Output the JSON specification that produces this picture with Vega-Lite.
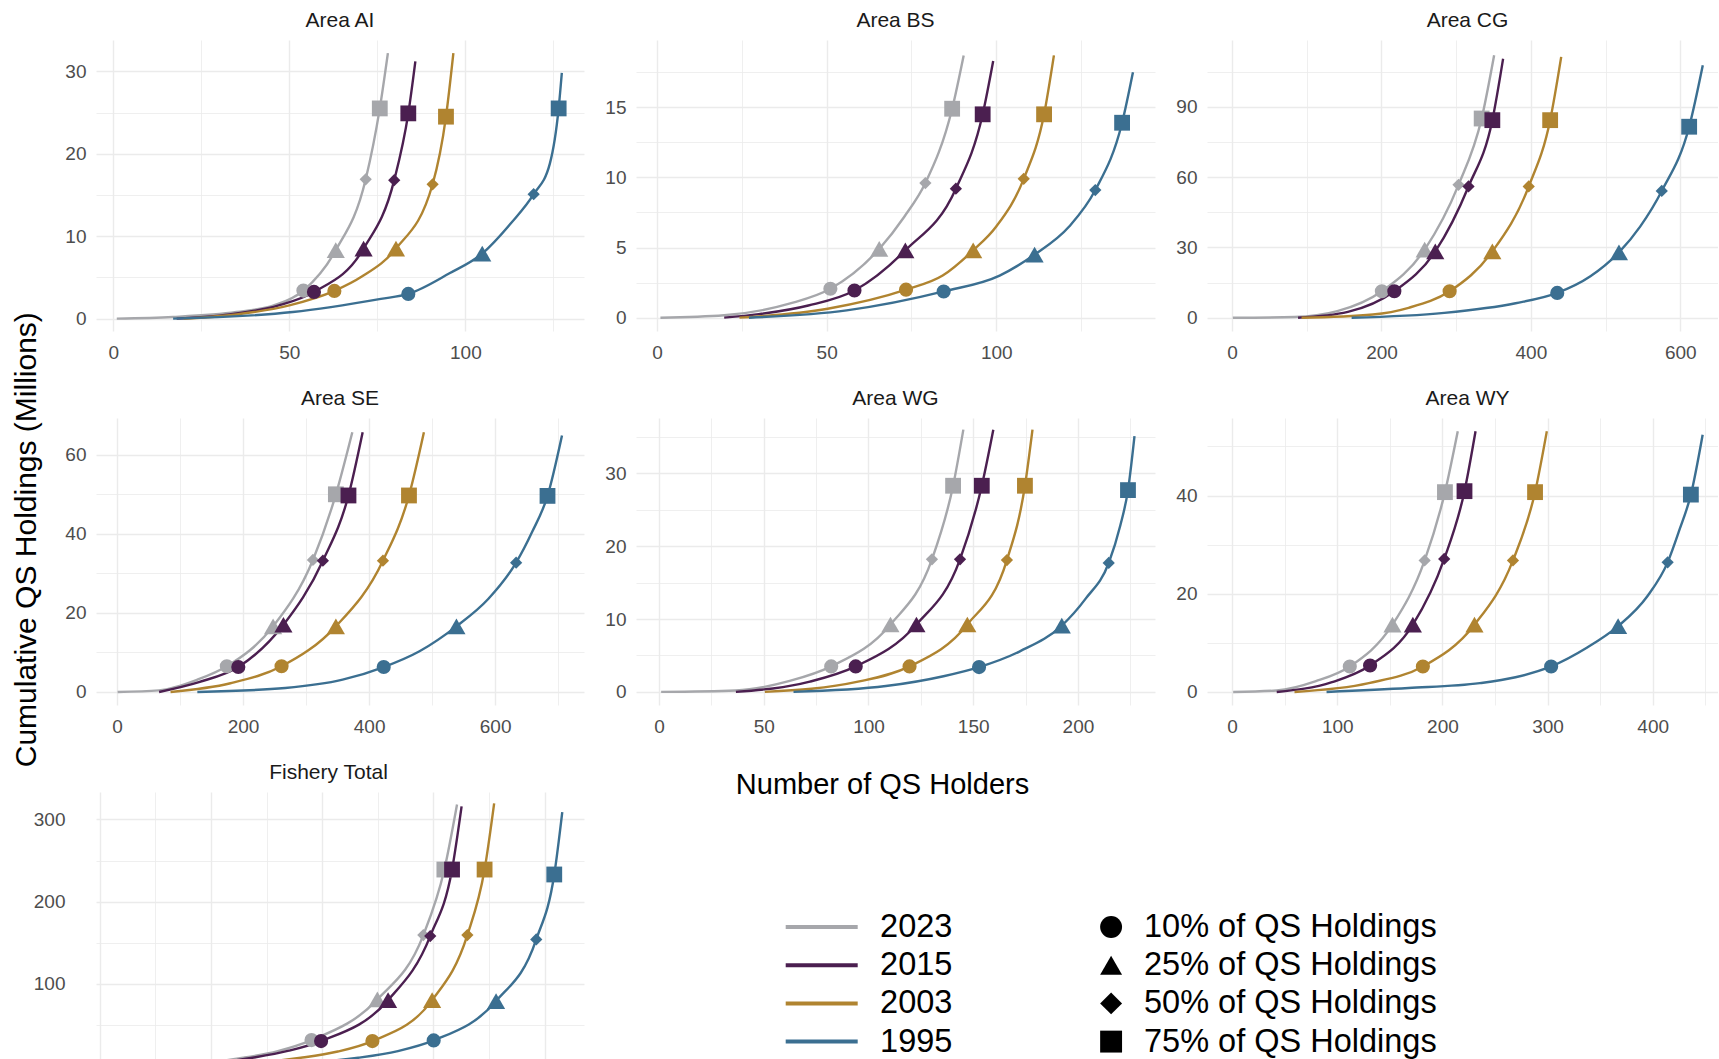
{
"$schema": "https://vega.github.io/schema/vega-lite/v6.json",
"background": "white",
"autosize": {"type": "pad"},
"padding": {"left": 11, "top": 10, "right": 0, "bottom": 0},
"columns": 3,
"bounds": "flush",
"align": "each",
"spacing": {"row": 87, "column": 52},
"datasets": {
"lines": [
{"p":"AI","yr":"2023","x":1,"y":0},{"p":"AI","yr":"2023","x":17,"y":0.2},{"p":"AI","yr":"2023","x":35,"y":0.8},{"p":"AI","yr":"2023","x":45.6,"y":1.6},{"p":"AI","yr":"2023","x":54,"y":3.4},{"p":"AI","yr":"2023","x":63.2,"y":8.3},{"p":"AI","yr":"2023","x":71.7,"y":16.9},{"p":"AI","yr":"2023","x":75.7,"y":25.5},{"p":"AI","yr":"2023","x":78,"y":32.2},
{"p":"AI","yr":"2015","x":18,"y":0},{"p":"AI","yr":"2015","x":33,"y":0.5},{"p":"AI","yr":"2015","x":47,"y":1.6},{"p":"AI","yr":"2015","x":57,"y":3.24},{"p":"AI","yr":"2015","x":71.1,"y":8.5},{"p":"AI","yr":"2015","x":79.8,"y":16.8},{"p":"AI","yr":"2015","x":83.8,"y":24.9},{"p":"AI","yr":"2015","x":85.8,"y":31.2},
{"p":"AI","yr":"2003","x":20,"y":0},{"p":"AI","yr":"2003","x":35,"y":0.5},{"p":"AI","yr":"2003","x":50,"y":1.6},{"p":"AI","yr":"2003","x":62.8,"y":3.36},{"p":"AI","yr":"2003","x":70.6,"y":5.1},{"p":"AI","yr":"2003","x":80.3,"y":8.5},{"p":"AI","yr":"2003","x":90.7,"y":16.3},{"p":"AI","yr":"2003","x":94.5,"y":24.5},{"p":"AI","yr":"2003","x":96.6,"y":32.2},
{"p":"AI","yr":"1995","x":17,"y":0},{"p":"AI","yr":"1995","x":51,"y":0.8},{"p":"AI","yr":"1995","x":76,"y":2.4},{"p":"AI","yr":"1995","x":83.8,"y":3.0},{"p":"AI","yr":"1995","x":95.5,"y":5.5},{"p":"AI","yr":"1995","x":104.8,"y":7.9},{"p":"AI","yr":"1995","x":113,"y":11.6},{"p":"AI","yr":"1995","x":119.4,"y":15.1},{"p":"AI","yr":"1995","x":124,"y":18.8},{"p":"AI","yr":"1995","x":126.5,"y":25.5},{"p":"AI","yr":"1995","x":127.4,"y":29.8},
{"p":"BS","yr":"2023","x":1,"y":0},{"p":"BS","yr":"2023","x":19.8,"y":0.17},{"p":"BS","yr":"2023","x":39,"y":1.0},{"p":"BS","yr":"2023","x":51.1,"y":2.06},{"p":"BS","yr":"2023","x":65.5,"y":4.9},{"p":"BS","yr":"2023","x":72.9,"y":7.2},{"p":"BS","yr":"2023","x":79.1,"y":9.6},{"p":"BS","yr":"2023","x":87,"y":14.9},{"p":"BS","yr":"2023","x":90.4,"y":18.7},
{"p":"BS","yr":"2015","x":19.8,"y":0},{"p":"BS","yr":"2015","x":30,"y":0.25},{"p":"BS","yr":"2015","x":44.6,"y":0.87},{"p":"BS","yr":"2015","x":58.2,"y":1.94},{"p":"BS","yr":"2015","x":73.2,"y":4.8},{"p":"BS","yr":"2015","x":88.1,"y":9.2},{"p":"BS","yr":"2015","x":96,"y":14.5},{"p":"BS","yr":"2015","x":99.1,"y":18.3},
{"p":"BS","yr":"2003","x":24.3,"y":0},{"p":"BS","yr":"2003","x":50.3,"y":0.64},{"p":"BS","yr":"2003","x":73.4,"y":2.0},{"p":"BS","yr":"2003","x":84.2,"y":3.0},{"p":"BS","yr":"2003","x":93.2,"y":4.8},{"p":"BS","yr":"2003","x":100,"y":6.5},{"p":"BS","yr":"2003","x":108.1,"y":9.9},{"p":"BS","yr":"2003","x":114.1,"y":14.5},{"p":"BS","yr":"2003","x":117,"y":18.7},
{"p":"BS","yr":"1995","x":27.1,"y":0},{"p":"BS","yr":"1995","x":55.9,"y":0.52},{"p":"BS","yr":"1995","x":84.5,"y":1.87},{"p":"BS","yr":"1995","x":101,"y":3.0},{"p":"BS","yr":"1995","x":111.3,"y":4.5},{"p":"BS","yr":"1995","x":121.5,"y":6.5},{"p":"BS","yr":"1995","x":129.2,"y":9.1},{"p":"BS","yr":"1995","x":137.1,"y":13.9},{"p":"BS","yr":"1995","x":140.3,"y":17.5},
{"p":"CG","yr":"2023","x":1,"y":0},{"p":"CG","yr":"2023","x":83.5,"y":0.3},{"p":"CG","yr":"2023","x":140.8,"y":2.8},{"p":"CG","yr":"2023","x":200.5,"y":11.3},{"p":"CG","yr":"2023","x":257.8,"y":29.1},{"p":"CG","yr":"2023","x":303.1,"y":56.7},{"p":"CG","yr":"2023","x":334.1,"y":85},{"p":"CG","yr":"2023","x":350.8,"y":112},
{"p":"CG","yr":"2015","x":88.3,"y":0},{"p":"CG","yr":"2015","x":155,"y":2.5},{"p":"CG","yr":"2015","x":217.2,"y":11.3},{"p":"CG","yr":"2015","x":272,"y":28.3},{"p":"CG","yr":"2015","x":316.5,"y":56},{"p":"CG","yr":"2015","x":348.4,"y":84.3},{"p":"CG","yr":"2015","x":362.8,"y":110.5},
{"p":"CG","yr":"2003","x":93,"y":0},{"p":"CG","yr":"2003","x":188.5,"y":1.4},{"p":"CG","yr":"2003","x":236.3,"y":4.25},{"p":"CG","yr":"2003","x":291.2,"y":11.3},{"p":"CG","yr":"2003","x":348.4,"y":28.3},{"p":"CG","yr":"2003","x":397.1,"y":56},{"p":"CG","yr":"2003","x":425.8,"y":84.3},{"p":"CG","yr":"2003","x":440.6,"y":111.3},
{"p":"CG","yr":"1995","x":160,"y":0},{"p":"CG","yr":"1995","x":284,"y":2.1},{"p":"CG","yr":"1995","x":379.5,"y":6.2},{"p":"CG","yr":"1995","x":435.3,"y":10.6},{"p":"CG","yr":"1995","x":479.7,"y":17.7},{"p":"CG","yr":"1995","x":517.9,"y":27.9},{"p":"CG","yr":"1995","x":546.5,"y":39},{"p":"CG","yr":"1995","x":575.2,"y":54.1},{"p":"CG","yr":"1995","x":611.9,"y":81.5},{"p":"CG","yr":"1995","x":630.1,"y":107.7},
{"p":"SE","yr":"2023","x":1,"y":0},{"p":"SE","yr":"2023","x":66.8,"y":0.4},{"p":"SE","yr":"2023","x":127.5,"y":3.1},{"p":"SE","yr":"2023","x":174.3,"y":6.5},{"p":"SE","yr":"2023","x":247.7,"y":16.6},{"p":"SE","yr":"2023","x":310.9,"y":33.4},{"p":"SE","yr":"2023","x":347.3,"y":50},{"p":"SE","yr":"2023","x":373.4,"y":65.7},
{"p":"SE","yr":"2015","x":66.8,"y":0},{"p":"SE","yr":"2015","x":130,"y":2.5},{"p":"SE","yr":"2015","x":192.5,"y":6.3},{"p":"SE","yr":"2015","x":264.1,"y":17},{"p":"SE","yr":"2015","x":326.7,"y":33.2},{"p":"SE","yr":"2015","x":367.3,"y":49.7},{"p":"SE","yr":"2015","x":389.8,"y":65.7},
{"p":"SE","yr":"2003","x":85,"y":0},{"p":"SE","yr":"2003","x":180,"y":2.2},{"p":"SE","yr":"2003","x":261.1,"y":6.5},{"p":"SE","yr":"2003","x":347.3,"y":16.6},{"p":"SE","yr":"2003","x":422,"y":33.2},{"p":"SE","yr":"2003","x":463.3,"y":49.7},{"p":"SE","yr":"2003","x":487,"y":65.7},
{"p":"SE","yr":"1995","x":127.5,"y":0},{"p":"SE","yr":"1995","x":267,"y":1.0},{"p":"SE","yr":"1995","x":358,"y":3.1},{"p":"SE","yr":"1995","x":423.2,"y":6.3},{"p":"SE","yr":"1995","x":480,"y":10.3},{"p":"SE","yr":"1995","x":538.6,"y":16.6},{"p":"SE","yr":"1995","x":589,"y":23.5},{"p":"SE","yr":"1995","x":633.3,"y":32.7},{"p":"SE","yr":"1995","x":658.8,"y":40.5},{"p":"SE","yr":"1995","x":683.1,"y":49.6},{"p":"SE","yr":"1995","x":706.1,"y":64.9},
{"p":"WG","yr":"2023","x":1,"y":0},{"p":"WG","yr":"2023","x":36.7,"y":0.2},{"p":"WG","yr":"2023","x":62.4,"y":1.5},{"p":"WG","yr":"2023","x":82.2,"y":3.5},{"p":"WG","yr":"2023","x":110.5,"y":9.25},{"p":"WG","yr":"2023","x":130.3,"y":18.2},{"p":"WG","yr":"2023","x":140.4,"y":28.3},{"p":"WG","yr":"2023","x":145.3,"y":36},
{"p":"WG","yr":"2015","x":36.7,"y":0},{"p":"WG","yr":"2015","x":72,"y":1.4},{"p":"WG","yr":"2015","x":93.9,"y":3.5},{"p":"WG","yr":"2015","x":122.9,"y":9.25},{"p":"WG","yr":"2015","x":143.7,"y":18.2},{"p":"WG","yr":"2015","x":154.1,"y":28.3},{"p":"WG","yr":"2015","x":159.6,"y":36},
{"p":"WG","yr":"2003","x":50.5,"y":0},{"p":"WG","yr":"2003","x":95,"y":1.4},{"p":"WG","yr":"2003","x":119.6,"y":3.5},{"p":"WG","yr":"2003","x":147.2,"y":9.25},{"p":"WG","yr":"2003","x":166.1,"y":18.1},{"p":"WG","yr":"2003","x":174.7,"y":28.3},{"p":"WG","yr":"2003","x":178.3,"y":36},
{"p":"WG","yr":"1995","x":64.2,"y":0},{"p":"WG","yr":"1995","x":108.3,"y":0.8},{"p":"WG","yr":"1995","x":135.8,"y":2.15},{"p":"WG","yr":"1995","x":152.8,"y":3.4},{"p":"WG","yr":"1995","x":172.5,"y":5.6},{"p":"WG","yr":"1995","x":192.3,"y":9.1},{"p":"WG","yr":"1995","x":203.7,"y":12.8},{"p":"WG","yr":"1995","x":214.7,"y":17.7},{"p":"WG","yr":"1995","x":220.2,"y":22.8},{"p":"WG","yr":"1995","x":223.9,"y":27.7},{"p":"WG","yr":"1995","x":227,"y":35.1},
{"p":"WY","yr":"2023","x":1,"y":0},{"p":"WY","yr":"2023","x":42.4,"y":0.3},{"p":"WY","yr":"2023","x":79.7,"y":2.2},{"p":"WY","yr":"2023","x":111.9,"y":5.2},{"p":"WY","yr":"2023","x":152.5,"y":13.7},{"p":"WY","yr":"2023","x":183.1,"y":26.8},{"p":"WY","yr":"2023","x":202.4,"y":40.7},{"p":"WY","yr":"2023","x":214.6,"y":53.1},
{"p":"WY","yr":"2015","x":42.4,"y":0},{"p":"WY","yr":"2015","x":95,"y":2.0},{"p":"WY","yr":"2015","x":131.2,"y":5.4},{"p":"WY","yr":"2015","x":171.9,"y":13.7},{"p":"WY","yr":"2015","x":201.7,"y":27.1},{"p":"WY","yr":"2015","x":221,"y":40.9},{"p":"WY","yr":"2015","x":231.5,"y":53.1},
{"p":"WY","yr":"2003","x":59.3,"y":0},{"p":"WY","yr":"2003","x":130,"y":1.8},{"p":"WY","yr":"2003","x":181.4,"y":5.2},{"p":"WY","yr":"2003","x":230.5,"y":13.7},{"p":"WY","yr":"2003","x":267.1,"y":26.8},{"p":"WY","yr":"2003","x":288.1,"y":40.7},{"p":"WY","yr":"2003","x":299.3,"y":53.1},
{"p":"WY","yr":"1995","x":89.8,"y":0},{"p":"WY","yr":"1995","x":167.8,"y":0.8},{"p":"WY","yr":"1995","x":235.6,"y":1.8},{"p":"WY","yr":"1995","x":269.5,"y":3.0},{"p":"WY","yr":"1995","x":303.4,"y":5.2},{"p":"WY","yr":"1995","x":337.3,"y":9},{"p":"WY","yr":"1995","x":367.1,"y":13.4},{"p":"WY","yr":"1995","x":394.9,"y":19.5},{"p":"WY","yr":"1995","x":414.2,"y":26.4},{"p":"WY","yr":"1995","x":425.4,"y":33},{"p":"WY","yr":"1995","x":436.3,"y":40.2},{"p":"WY","yr":"1995","x":447.5,"y":52.4},
{"p":"FT","yr":"2023","x":1,"y":0},{"p":"FT","yr":"2023","x":400,"y":2.5},{"p":"FT","yr":"2023","x":645,"y":9.9},{"p":"FT","yr":"2023","x":800,"y":18},{"p":"FT","yr":"2023","x":951.8,"y":31.4},{"p":"FT","yr":"2023","x":1247.8,"y":80.9},{"p":"FT","yr":"2023","x":1454.4,"y":159.2},{"p":"FT","yr":"2023","x":1549,"y":239},{"p":"FT","yr":"2023","x":1605.9,"y":318.1},
{"p":"FT","yr":"2015","x":60,"y":0},{"p":"FT","yr":"2015","x":450,"y":2.5},{"p":"FT","yr":"2015","x":700,"y":10.5},{"p":"FT","yr":"2015","x":850,"y":18.5},{"p":"FT","yr":"2015","x":994.8,"y":30.2},{"p":"FT","yr":"2015","x":1296,"y":80.1},{"p":"FT","yr":"2015","x":1485.4,"y":158},{"p":"FT","yr":"2015","x":1583.5,"y":239},{"p":"FT","yr":"2015","x":1626.5,"y":316},
{"p":"FT","yr":"2003","x":150,"y":0},{"p":"FT","yr":"2003","x":600,"y":2.5},{"p":"FT","yr":"2003","x":903.6,"y":9.9},{"p":"FT","yr":"2003","x":1070,"y":17.5},{"p":"FT","yr":"2003","x":1225.5,"y":30.2},{"p":"FT","yr":"2003","x":1494,"y":80.1},{"p":"FT","yr":"2003","x":1652.3,"y":159.2},{"p":"FT","yr":"2003","x":1729.8,"y":239},{"p":"FT","yr":"2003","x":1772.8,"y":319.5},
{"p":"FT","yr":"1995","x":300,"y":0},{"p":"FT","yr":"1995","x":800,"y":2.5},{"p":"FT","yr":"1995","x":1161.8,"y":9.9},{"p":"FT","yr":"1995","x":1340,"y":18},{"p":"FT","yr":"1995","x":1500.9,"y":31},{"p":"FT","yr":"1995","x":1781.4,"y":78.9},{"p":"FT","yr":"1995","x":1962.1,"y":154},{"p":"FT","yr":"1995","x":2043,"y":233},{"p":"FT","yr":"1995","x":2079,"y":309}
],
"pts": [
{"p":"AI","yr":"2023","q":"10% of QS Holdings","x":54,"y":3.4},{"p":"AI","yr":"2023","q":"25% of QS Holdings","x":63.2,"y":8.3},{"p":"AI","yr":"2023","q":"50% of QS Holdings","x":71.7,"y":16.9},{"p":"AI","yr":"2023","q":"75% of QS Holdings","x":75.7,"y":25.5},
{"p":"AI","yr":"2015","q":"10% of QS Holdings","x":57,"y":3.24},{"p":"AI","yr":"2015","q":"25% of QS Holdings","x":71.1,"y":8.5},{"p":"AI","yr":"2015","q":"50% of QS Holdings","x":79.8,"y":16.8},{"p":"AI","yr":"2015","q":"75% of QS Holdings","x":83.8,"y":24.9},
{"p":"AI","yr":"2003","q":"10% of QS Holdings","x":62.8,"y":3.36},{"p":"AI","yr":"2003","q":"25% of QS Holdings","x":80.3,"y":8.5},{"p":"AI","yr":"2003","q":"50% of QS Holdings","x":90.7,"y":16.3},{"p":"AI","yr":"2003","q":"75% of QS Holdings","x":94.5,"y":24.5},
{"p":"AI","yr":"1995","q":"10% of QS Holdings","x":83.8,"y":3.0},{"p":"AI","yr":"1995","q":"25% of QS Holdings","x":104.8,"y":7.9},{"p":"AI","yr":"1995","q":"50% of QS Holdings","x":119.4,"y":15.1},{"p":"AI","yr":"1995","q":"75% of QS Holdings","x":126.5,"y":25.5},
{"p":"BS","yr":"2023","q":"10% of QS Holdings","x":51.1,"y":2.06},{"p":"BS","yr":"2023","q":"25% of QS Holdings","x":65.5,"y":4.9},{"p":"BS","yr":"2023","q":"50% of QS Holdings","x":79.1,"y":9.6},{"p":"BS","yr":"2023","q":"75% of QS Holdings","x":87,"y":14.9},
{"p":"BS","yr":"2015","q":"10% of QS Holdings","x":58.2,"y":1.94},{"p":"BS","yr":"2015","q":"25% of QS Holdings","x":73.2,"y":4.8},{"p":"BS","yr":"2015","q":"50% of QS Holdings","x":88.1,"y":9.2},{"p":"BS","yr":"2015","q":"75% of QS Holdings","x":96,"y":14.5},
{"p":"BS","yr":"2003","q":"10% of QS Holdings","x":73.4,"y":2.0},{"p":"BS","yr":"2003","q":"25% of QS Holdings","x":93.2,"y":4.8},{"p":"BS","yr":"2003","q":"50% of QS Holdings","x":108.1,"y":9.9},{"p":"BS","yr":"2003","q":"75% of QS Holdings","x":114.1,"y":14.5},
{"p":"BS","yr":"1995","q":"10% of QS Holdings","x":84.5,"y":1.87},{"p":"BS","yr":"1995","q":"25% of QS Holdings","x":111.3,"y":4.5},{"p":"BS","yr":"1995","q":"50% of QS Holdings","x":129.2,"y":9.1},{"p":"BS","yr":"1995","q":"75% of QS Holdings","x":137.1,"y":13.9},
{"p":"CG","yr":"2023","q":"10% of QS Holdings","x":200.5,"y":11.3},{"p":"CG","yr":"2023","q":"25% of QS Holdings","x":257.8,"y":29.1},{"p":"CG","yr":"2023","q":"50% of QS Holdings","x":303.1,"y":56.7},{"p":"CG","yr":"2023","q":"75% of QS Holdings","x":334.1,"y":85},
{"p":"CG","yr":"2015","q":"10% of QS Holdings","x":217.2,"y":11.3},{"p":"CG","yr":"2015","q":"25% of QS Holdings","x":272,"y":28.3},{"p":"CG","yr":"2015","q":"50% of QS Holdings","x":316.5,"y":56},{"p":"CG","yr":"2015","q":"75% of QS Holdings","x":348.4,"y":84.3},
{"p":"CG","yr":"2003","q":"10% of QS Holdings","x":291.2,"y":11.3},{"p":"CG","yr":"2003","q":"25% of QS Holdings","x":348.4,"y":28.3},{"p":"CG","yr":"2003","q":"50% of QS Holdings","x":397.1,"y":56},{"p":"CG","yr":"2003","q":"75% of QS Holdings","x":425.8,"y":84.3},
{"p":"CG","yr":"1995","q":"10% of QS Holdings","x":435.3,"y":10.6},{"p":"CG","yr":"1995","q":"25% of QS Holdings","x":517.9,"y":27.9},{"p":"CG","yr":"1995","q":"50% of QS Holdings","x":575.2,"y":54.1},{"p":"CG","yr":"1995","q":"75% of QS Holdings","x":611.9,"y":81.5},
{"p":"SE","yr":"2023","q":"10% of QS Holdings","x":174.3,"y":6.5},{"p":"SE","yr":"2023","q":"25% of QS Holdings","x":247.7,"y":16.6},{"p":"SE","yr":"2023","q":"50% of QS Holdings","x":310.9,"y":33.4},{"p":"SE","yr":"2023","q":"75% of QS Holdings","x":347.3,"y":50},
{"p":"SE","yr":"2015","q":"10% of QS Holdings","x":192.5,"y":6.3},{"p":"SE","yr":"2015","q":"25% of QS Holdings","x":264.1,"y":17},{"p":"SE","yr":"2015","q":"50% of QS Holdings","x":326.7,"y":33.2},{"p":"SE","yr":"2015","q":"75% of QS Holdings","x":367.3,"y":49.7},
{"p":"SE","yr":"2003","q":"10% of QS Holdings","x":261.1,"y":6.5},{"p":"SE","yr":"2003","q":"25% of QS Holdings","x":347.3,"y":16.6},{"p":"SE","yr":"2003","q":"50% of QS Holdings","x":422,"y":33.2},{"p":"SE","yr":"2003","q":"75% of QS Holdings","x":463.3,"y":49.7},
{"p":"SE","yr":"1995","q":"10% of QS Holdings","x":423.2,"y":6.3},{"p":"SE","yr":"1995","q":"25% of QS Holdings","x":538.6,"y":16.6},{"p":"SE","yr":"1995","q":"50% of QS Holdings","x":633.3,"y":32.7},{"p":"SE","yr":"1995","q":"75% of QS Holdings","x":683.1,"y":49.6},
{"p":"WG","yr":"2023","q":"10% of QS Holdings","x":82.2,"y":3.5},{"p":"WG","yr":"2023","q":"25% of QS Holdings","x":110.5,"y":9.25},{"p":"WG","yr":"2023","q":"50% of QS Holdings","x":130.3,"y":18.2},{"p":"WG","yr":"2023","q":"75% of QS Holdings","x":140.4,"y":28.3},
{"p":"WG","yr":"2015","q":"10% of QS Holdings","x":93.9,"y":3.5},{"p":"WG","yr":"2015","q":"25% of QS Holdings","x":122.9,"y":9.25},{"p":"WG","yr":"2015","q":"50% of QS Holdings","x":143.7,"y":18.2},{"p":"WG","yr":"2015","q":"75% of QS Holdings","x":154.1,"y":28.3},
{"p":"WG","yr":"2003","q":"10% of QS Holdings","x":119.6,"y":3.5},{"p":"WG","yr":"2003","q":"25% of QS Holdings","x":147.2,"y":9.25},{"p":"WG","yr":"2003","q":"50% of QS Holdings","x":166.1,"y":18.1},{"p":"WG","yr":"2003","q":"75% of QS Holdings","x":174.7,"y":28.3},
{"p":"WG","yr":"1995","q":"10% of QS Holdings","x":152.8,"y":3.4},{"p":"WG","yr":"1995","q":"25% of QS Holdings","x":192.3,"y":9.1},{"p":"WG","yr":"1995","q":"50% of QS Holdings","x":214.7,"y":17.7},{"p":"WG","yr":"1995","q":"75% of QS Holdings","x":223.9,"y":27.7},
{"p":"WY","yr":"2023","q":"10% of QS Holdings","x":111.9,"y":5.2},{"p":"WY","yr":"2023","q":"25% of QS Holdings","x":152.5,"y":13.7},{"p":"WY","yr":"2023","q":"50% of QS Holdings","x":183.1,"y":26.8},{"p":"WY","yr":"2023","q":"75% of QS Holdings","x":202.4,"y":40.7},
{"p":"WY","yr":"2015","q":"10% of QS Holdings","x":131.2,"y":5.4},{"p":"WY","yr":"2015","q":"25% of QS Holdings","x":171.9,"y":13.7},{"p":"WY","yr":"2015","q":"50% of QS Holdings","x":201.7,"y":27.1},{"p":"WY","yr":"2015","q":"75% of QS Holdings","x":221,"y":40.9},
{"p":"WY","yr":"2003","q":"10% of QS Holdings","x":181.4,"y":5.2},{"p":"WY","yr":"2003","q":"25% of QS Holdings","x":230.5,"y":13.7},{"p":"WY","yr":"2003","q":"50% of QS Holdings","x":267.1,"y":26.8},{"p":"WY","yr":"2003","q":"75% of QS Holdings","x":288.1,"y":40.7},
{"p":"WY","yr":"1995","q":"10% of QS Holdings","x":303.4,"y":5.2},{"p":"WY","yr":"1995","q":"25% of QS Holdings","x":367.1,"y":13.4},{"p":"WY","yr":"1995","q":"50% of QS Holdings","x":414.2,"y":26.4},{"p":"WY","yr":"1995","q":"75% of QS Holdings","x":436.3,"y":40.2},
{"p":"FT","yr":"2023","q":"10% of QS Holdings","x":951.8,"y":31.4},{"p":"FT","yr":"2023","q":"25% of QS Holdings","x":1247.8,"y":80.9},{"p":"FT","yr":"2023","q":"50% of QS Holdings","x":1454.4,"y":159.2},{"p":"FT","yr":"2023","q":"75% of QS Holdings","x":1549,"y":239},
{"p":"FT","yr":"2015","q":"10% of QS Holdings","x":994.8,"y":30.2},{"p":"FT","yr":"2015","q":"25% of QS Holdings","x":1296,"y":80.1},{"p":"FT","yr":"2015","q":"50% of QS Holdings","x":1485.4,"y":158},{"p":"FT","yr":"2015","q":"75% of QS Holdings","x":1583.5,"y":239},
{"p":"FT","yr":"2003","q":"10% of QS Holdings","x":1225.5,"y":30.2},{"p":"FT","yr":"2003","q":"25% of QS Holdings","x":1494,"y":80.1},{"p":"FT","yr":"2003","q":"50% of QS Holdings","x":1652.3,"y":159.2},{"p":"FT","yr":"2003","q":"75% of QS Holdings","x":1729.8,"y":239},
{"p":"FT","yr":"1995","q":"10% of QS Holdings","x":1500.9,"y":31},{"p":"FT","yr":"1995","q":"25% of QS Holdings","x":1781.4,"y":78.9},{"p":"FT","yr":"1995","q":"50% of QS Holdings","x":1962.1,"y":154},{"p":"FT","yr":"1995","q":"75% of QS Holdings","x":2043,"y":233}
]
},
"concat": [
{
"width": 488, "height": 291,
"title": {"text": "Area AI"},
"layer": [
{"data": {"name": "lines"}, "transform": [{"filter": "datum.p == 'AI'"}],
 "mark": {"type": "line", "interpolate": "monotone", "strokeWidth": 2.4, "clip": true},
 "encoding": {
  "x": {"field": "x", "type": "quantitative", "title": null, "scale": {"domain": [-4.9, 133.7], "nice": false, "zero": false},
        "axis": {"values": [0,25,50,75,100,125], "labelExpr": "datum.value % 50 == 0 ? datum.label : ''", "gridWidth": {"condition": {"test": "datum.value % 50 == 0", "value": 1.4}, "value": 0.8}}},
  "y": {"field": "y", "type": "quantitative", "title": "Cumulative QS Holdings (Millions)", "scale": {"domain": [-1.5, 33.8], "nice": false, "zero": false},
        "axis": {"values": [0,5,10,15,20,25,30], "labelExpr": "datum.value % 10 == 0 ? datum.label : ''", "gridWidth": {"condition": {"test": "datum.value % 10 == 0", "value": 1.4}, "value": 0.8},
                 "titleX": -60.9, "titleY": 499.2, "titleAngle": -90, "titleAlign": "center", "titleBaseline": "alphabetic", "titleFontSize": 30, "titleFont": "Liberation Sans", "titleFontWeight": "normal", "titleColor": "black"}},
  "color": {"field": "yr", "type": "nominal", "scale": {"domain": ["2023","2015","2003","1995"], "range": ["#A6A7AB","#4B1F50","#B08430","#3B6F91"]},
        "legend": {"title": null, "orient": "none", "legendX": 689.7, "legendY": 870.75, "direction": "vertical", "padding": 0, "symbolType": "M-3,0L3,0", "symbolSize": 576, "symbolStrokeWidth": 4, "symbolOffset": 19.75, "labelOffset": 42.15, "labelFontSize": 32.5, "labelFont": "Liberation Sans", "labelColor": "black", "labelLimit": 400, "rowPadding": 5.2}}
 }},
{"data": {"name": "pts"}, "transform": [{"filter": "datum.p == 'AI'"}],
 "mark": {"type": "point", "filled": true, "opacity": 1, "clip": true},
 "encoding": {
  "x": {"field": "x", "type": "quantitative"},
  "y": {"field": "y", "type": "quantitative"},
  "color": {"field": "yr", "type": "nominal", "legend": null},
  "shape": {"field": "q", "type": "nominal", "scale": {"domain": ["10% of QS Holdings","25% of QS Holdings","50% of QS Holdings","75% of QS Holdings"], "range": ["circle","triangle-up","diamond","square"]},
        "legend": {"title": null, "orient": "none", "legendX": 998.85, "legendY": 870.75, "direction": "vertical", "padding": 0, "symbolSize": 480, "symbolFillColor": "black", "symbolStrokeColor": "black", "symbolStrokeWidth": 0, "symbolOffset": 0, "labelOffset": 16.65, "labelFontSize": 32.5, "labelFont": "Liberation Sans", "labelColor": "black", "labelLimit": 500, "rowPadding": 5.2}},
  "size": {"field": "q", "type": "nominal", "scale": {"type": "ordinal", "domain": ["75% of QS Holdings","50% of QS Holdings","25% of QS Holdings","10% of QS Holdings"], "range": [250, 150, 330, 200]}, "legend": null}
 }}
]
},
{
"width": 519, "height": 291,
"title": {"text": "Area BS"},
"layer": [
{"data": {"name": "lines"}, "transform": [{"filter": "datum.p == 'BS'"}],
 "mark": {"type": "line", "interpolate": "monotone", "strokeWidth": 2.4, "clip": true},
 "encoding": {
  "x": {"field": "x", "type": "quantitative", "title": null, "scale": {"domain": [-6.2, 146.8], "nice": false, "zero": false},
        "axis": {"values": [0,25,50,75,100,125], "labelExpr": "datum.value % 50 == 0 ? datum.label : ''", "gridWidth": {"condition": {"test": "datum.value % 50 == 0", "value": 1.4}, "value": 0.8}}},
  "y": {"field": "y", "type": "quantitative", "title": null, "scale": {"domain": [-0.95, 19.8], "nice": false, "zero": false},
        "axis": {"values": [0,2.5,5,7.5,10,12.5,15,17.5], "labelExpr": "datum.value % 5 == 0 ? datum.label : ''", "gridWidth": {"condition": {"test": "datum.value % 5 == 0", "value": 1.4}, "value": 0.8}}},
  "color": {"field": "yr", "type": "nominal", "legend": null}
 }},
{"data": {"name": "pts"}, "transform": [{"filter": "datum.p == 'BS'"}],
 "mark": {"type": "point", "filled": true, "opacity": 1, "clip": true},
 "encoding": {
  "x": {"field": "x", "type": "quantitative"},
  "y": {"field": "y", "type": "quantitative"},
  "color": {"field": "yr", "type": "nominal", "legend": null},
  "shape": {"field": "q", "type": "nominal", "legend": null},
  "size": {"field": "q", "type": "nominal", "scale": {"type": "ordinal", "domain": ["75% of QS Holdings","50% of QS Holdings","25% of QS Holdings","10% of QS Holdings"], "range": [250, 150, 330, 200]}, "legend": null}
 }}
]
},
{
"width": 511, "height": 291,
"title": {"text": "Area CG", "dx": 5},
"layer": [
{"data": {"name": "lines"}, "transform": [{"filter": "datum.p == 'CG'"}],
 "mark": {"type": "line", "interpolate": "monotone", "strokeWidth": 2.4, "clip": true},
 "encoding": {
  "x": {"field": "x", "type": "quantitative", "title": null, "scale": {"domain": [-33.6, 650.5], "nice": false, "zero": false},
        "axis": {"values": [0,100,200,300,400,500,600], "labelExpr": "datum.value % 200 == 0 ? datum.label : ''", "gridWidth": {"condition": {"test": "datum.value % 200 == 0", "value": 1.4}, "value": 0.8}}},
  "y": {"field": "y", "type": "quantitative", "title": null, "scale": {"domain": [-5.65, 118.5], "nice": false, "zero": false},
        "axis": {"values": [0,15,30,45,60,75,90,105], "labelExpr": "datum.value % 30 == 0 ? datum.label : ''", "gridWidth": {"condition": {"test": "datum.value % 30 == 0", "value": 1.4}, "value": 0.8}}},
  "color": {"field": "yr", "type": "nominal", "legend": null}
 }},
{"data": {"name": "pts"}, "transform": [{"filter": "datum.p == 'CG'"}],
 "mark": {"type": "point", "filled": true, "opacity": 1, "clip": true},
 "encoding": {
  "x": {"field": "x", "type": "quantitative"},
  "y": {"field": "y", "type": "quantitative"},
  "color": {"field": "yr", "type": "nominal", "legend": null},
  "shape": {"field": "q", "type": "nominal", "legend": null},
  "size": {"field": "q", "type": "nominal", "scale": {"type": "ordinal", "domain": ["75% of QS Holdings","50% of QS Holdings","25% of QS Holdings","10% of QS Holdings"], "range": [250, 150, 330, 200]}, "legend": null}
 }}
]
},
{
"width": 488, "height": 287,
"title": {"text": "Area SE"},
"layer": [
{"data": {"name": "lines"}, "transform": [{"filter": "datum.p == 'SE'"}],
 "mark": {"type": "line", "interpolate": "monotone", "strokeWidth": 2.4, "clip": true},
 "encoding": {
  "x": {"field": "x", "type": "quantitative", "title": null, "scale": {"domain": [-33.3, 741], "nice": false, "zero": false},
        "axis": {"values": [0,100,200,300,400,500,600,700], "labelExpr": "datum.value % 200 == 0 ? datum.label : ''", "gridWidth": {"condition": {"test": "datum.value % 200 == 0", "value": 1.4}, "value": 0.8}}},
  "y": {"field": "y", "type": "quantitative", "title": null, "scale": {"domain": [-3.3, 69.3], "nice": false, "zero": false},
        "axis": {"values": [0,10,20,30,40,50,60], "labelExpr": "datum.value % 20 == 0 ? datum.label : ''", "gridWidth": {"condition": {"test": "datum.value % 20 == 0", "value": 1.4}, "value": 0.8}}},
  "color": {"field": "yr", "type": "nominal", "legend": null}
 }},
{"data": {"name": "pts"}, "transform": [{"filter": "datum.p == 'SE'"}],
 "mark": {"type": "point", "filled": true, "opacity": 1, "clip": true},
 "encoding": {
  "x": {"field": "x", "type": "quantitative"},
  "y": {"field": "y", "type": "quantitative"},
  "color": {"field": "yr", "type": "nominal", "legend": null},
  "shape": {"field": "q", "type": "nominal", "legend": null},
  "size": {"field": "q", "type": "nominal", "scale": {"type": "ordinal", "domain": ["75% of QS Holdings","50% of QS Holdings","25% of QS Holdings","10% of QS Holdings"], "range": [250, 150, 330, 200]}, "legend": null}
 }}
]
},
{
"width": 519, "height": 287,
"title": {"text": "Area WG"},
"layer": [
{"data": {"name": "lines"}, "transform": [{"filter": "datum.p == 'WG'"}],
 "mark": {"type": "line", "interpolate": "monotone", "strokeWidth": 2.4, "clip": true},
 "encoding": {
  "x": {"field": "x", "type": "quantitative", "title": "Number of QS Holders", "scale": {"domain": [-11, 236.8], "nice": false, "zero": false},
        "axis": {"values": [0,25,50,75,100,125,150,175,200,225], "labelExpr": "datum.value % 50 == 0 ? datum.label : ''", "gridWidth": {"condition": {"test": "datum.value % 50 == 0", "value": 1.4}, "value": 0.8},
                 "titleX": 246, "titleY": 88, "titleAlign": "center", "titleBaseline": "alphabetic", "titleFontSize": 29, "titleFont": "Liberation Sans", "titleFontWeight": "normal", "titleColor": "black"}},
  "y": {"field": "y", "type": "quantitative", "title": null, "scale": {"domain": [-1.8, 37.6], "nice": false, "zero": false},
        "axis": {"values": [0,5,10,15,20,25,30,35], "labelExpr": "datum.value % 10 == 0 ? datum.label : ''", "gridWidth": {"condition": {"test": "datum.value % 10 == 0", "value": 1.4}, "value": 0.8}}},
  "color": {"field": "yr", "type": "nominal", "legend": null}
 }},
{"data": {"name": "pts"}, "transform": [{"filter": "datum.p == 'WG'"}],
 "mark": {"type": "point", "filled": true, "opacity": 1, "clip": true},
 "encoding": {
  "x": {"field": "x", "type": "quantitative"},
  "y": {"field": "y", "type": "quantitative"},
  "color": {"field": "yr", "type": "nominal", "legend": null},
  "shape": {"field": "q", "type": "nominal", "legend": null},
  "size": {"field": "q", "type": "nominal", "scale": {"type": "ordinal", "domain": ["75% of QS Holdings","50% of QS Holdings","25% of QS Holdings","10% of QS Holdings"], "range": [250, 150, 330, 200]}, "legend": null}
 }}
]
},
{
"width": 511, "height": 287,
"title": {"text": "Area WY", "dx": 5},
"layer": [
{"data": {"name": "lines"}, "transform": [{"filter": "datum.p == 'WY'"}],
 "mark": {"type": "line", "interpolate": "monotone", "strokeWidth": 2.4, "clip": true},
 "encoding": {
  "x": {"field": "x", "type": "quantitative", "title": null, "scale": {"domain": [-23.9, 462.1], "nice": false, "zero": false},
        "axis": {"values": [0,50,100,150,200,250,300,350,400,450], "labelExpr": "datum.value % 100 == 0 ? datum.label : ''", "gridWidth": {"condition": {"test": "datum.value % 100 == 0", "value": 1.4}, "value": 0.8}}},
  "y": {"field": "y", "type": "quantitative", "title": null, "scale": {"domain": [-2.65, 55.8], "nice": false, "zero": false},
        "axis": {"values": [0,10,20,30,40,50], "labelExpr": "datum.value % 20 == 0 ? datum.label : ''", "gridWidth": {"condition": {"test": "datum.value % 20 == 0", "value": 1.4}, "value": 0.8}}},
  "color": {"field": "yr", "type": "nominal", "legend": null}
 }},
{"data": {"name": "pts"}, "transform": [{"filter": "datum.p == 'WY'"}],
 "mark": {"type": "point", "filled": true, "opacity": 1, "clip": true},
 "encoding": {
  "x": {"field": "x", "type": "quantitative"},
  "y": {"field": "y", "type": "quantitative"},
  "color": {"field": "yr", "type": "nominal", "legend": null},
  "shape": {"field": "q", "type": "nominal", "legend": null},
  "size": {"field": "q", "type": "nominal", "scale": {"type": "ordinal", "domain": ["75% of QS Holdings","50% of QS Holdings","25% of QS Holdings","10% of QS Holdings"], "range": [250, 150, 330, 200]}, "legend": null}
 }}
]
},
{
"width": 488, "height": 267,
"title": {"text": "Fishery Total", "dx": -11.5},
"layer": [
{"data": {"name": "lines"}, "transform": [{"filter": "datum.p == 'FT'"}],
 "mark": {"type": "line", "interpolate": "monotone", "strokeWidth": 2.4, "clip": true},
 "encoding": {
  "x": {"field": "x", "type": "quantitative", "title": null, "scale": {"domain": [-17.1, 2176.7], "nice": false, "zero": false},
        "axis": {"values": [0,250,500,750,1000,1250,1500,1750,2000], "labels": false, "gridWidth": {"condition": {"test": "datum.value % 500 == 0", "value": 1.4}, "value": 0.8}}},
  "y": {"field": "y", "type": "quantitative", "title": null, "scale": {"domain": [8.4, 333.4], "nice": false, "zero": false},
        "axis": {"values": [50,100,150,200,250,300], "labelPadding": 31, "labelExpr": "datum.value % 100 == 0 ? datum.label : ''", "gridWidth": {"condition": {"test": "datum.value % 100 == 0", "value": 1.4}, "value": 0.8}}},
  "color": {"field": "yr", "type": "nominal", "legend": null}
 }},
{"data": {"name": "pts"}, "transform": [{"filter": "datum.p == 'FT'"}],
 "mark": {"type": "point", "filled": true, "opacity": 1, "clip": true},
 "encoding": {
  "x": {"field": "x", "type": "quantitative"},
  "y": {"field": "y", "type": "quantitative"},
  "color": {"field": "yr", "type": "nominal", "legend": null},
  "shape": {"field": "q", "type": "nominal", "legend": null},
  "size": {"field": "q", "type": "nominal", "scale": {"type": "ordinal", "domain": ["75% of QS Holdings","50% of QS Holdings","25% of QS Holdings","10% of QS Holdings"], "range": [250, 150, 330, 200]}, "legend": null}
 }}
]
}
],
"config": {
 "font": "Liberation Sans",
 "view": {"stroke": null},
 "title": {"fontSize": 21, "font": "Liberation Sans", "fontWeight": "normal", "color": "#1A1A1A", "offset": 9, "baseline": "alphabetic", "frame": "group", "anchor": "middle"},
 "axis": {"labelFont": "Liberation Sans", "labelFontSize": 19, "labelColor": "#4D4D4D", "domain": false, "ticks": false, "tickSize": 0, "gridColor": "#EBEBEB", "labelOverlap": false, "labelFlush": false, "labelBound": false},
 "axisX": {"labelPadding": 12},
 "axisY": {"labelPadding": 10},
 "legend": {"titleLimit": 0}
}
}
